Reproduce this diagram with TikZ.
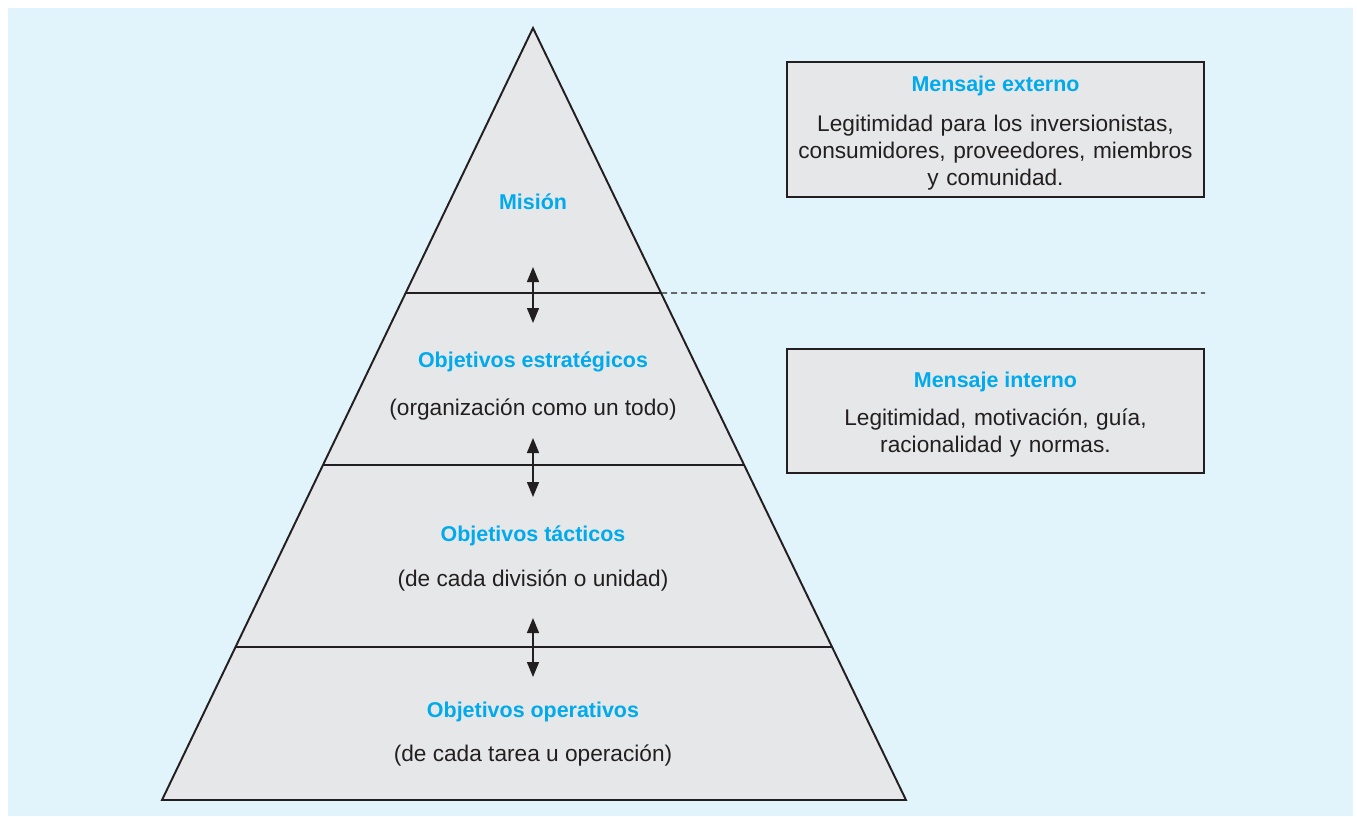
\documentclass[tikz,border=0pt]{standalone}
\usepackage{fontspec}
\setmainfont{Liberation Sans}
\usepackage{xcolor}
\usetikzlibrary{calc,arrows.meta,positioning}
\definecolor{skybg}{RGB}{225,244,251}
\definecolor{pyrgray}{RGB}{230,231,232}
\definecolor{ink}{RGB}{35,31,32}
\definecolor{cyanhead}{RGB}{0,170,236}

\begin{document}
\begin{tikzpicture}[x=0.02cm,y=-0.02cm,
    tier/.style={draw=ink,line width=1.1pt},
    head/.style={font=\fontsize{12.2}{15.4}\selectfont\bfseries,text=cyanhead,anchor=base,inner sep=0pt},
    sub/.style={font=\fontsize{12.9}{15.4}\selectfont,text=ink,anchor=base,inner sep=0pt},
    body/.style={sub,align=center,text width=8.2cm},
    msgbox/.style={draw=ink,fill=pyrgray,line width=1.1pt,minimum width=8.34cm,inner sep=0pt},
    link/.style={{Triangle[length=3mm,width=2.4mm]}-{Triangle[length=3mm,width=2.4mm]},ink,line width=0.8pt}]
    \useasboundingbox (0,0) rectangle (1357,816);
    \fill[skybg] (8,8) rectangle (1353,816);
    % pyramid
    \coordinate (apex) at (533,28); \coordinate (bl) at (162,800); \coordinate (br) at (906,800);
    \filldraw[tier,fill=pyrgray,line join=miter] (apex) -- (bl) -- (br) -- cycle;
    \coordinate (l1) at ($(apex)!0.3433!(bl)$); \coordinate (r1) at ($(apex)!0.3433!(br)$);
    \coordinate (l2) at ($(apex)!0.5661!(bl)$); \coordinate (r2) at ($(apex)!0.5661!(br)$);
    \coordinate (l3) at ($(apex)!0.8018!(bl)$); \coordinate (r3) at ($(apex)!0.8018!(br)$);
    \draw[tier] (l1) -- (r1); \draw[tier] (l2) -- (r2); \draw[tier] (l3) -- (r3);
    \coordinate (dashend) at (1205,293);
    \draw[ink,line width=0.7pt,dash pattern=on 0.12cm off 0.08cm] (r1) -- (dashend);
    % levels
    \node[head] (mision) at (533,209) {Misión};
    \node[head] (estr) at (533,367) {Objetivos estratégicos};
    \node[sub] (estrsub) at (533,415) {(organización como un todo)};
    \node[head] (tact) at (533,541) {Objetivos tácticos};
    \node[sub] (tactsub) at (533,586) {(de cada división o unidad)};
    \node[head] (oper) at (533,717) {Objetivos operativos};
    \node[sub] (opersub) at (533,761) {(de cada tarea u operación)};
    % arrows between levels
    \coordinate (a1t) at (533,267); \coordinate (a1b) at (533,323);
    \coordinate (a2t) at (533,438); \coordinate (a2b) at (533,497);
    \coordinate (a3t) at (533,618); \coordinate (a3b) at (533,677);
    \draw[link] (a1t) -- (a1b);
    \draw[link] (a2t) -- (a2b);
    \draw[link] (a3t) -- (a3b);
    % message boxes
    \node[msgbox,minimum height=2.7cm] (extbox) at (995.5,129.5) {};
    \node[head] (exthead) at (995.5,91) {Mensaje externo};
    \node[body] (exttext) at (995.5,131) {Legitimidad para los inversionistas,\\consumidores, proveedores, miembros\\y comunidad.};
    \node[msgbox,minimum height=2.48cm] (intbox) at (995.5,411) {};
    \node[head] (inthead) at (995.5,387) {Mensaje interno};
    \node[body] (inttext) at (995.5,425) {Legitimidad, motivación, guía,\\racionalidad y normas.};
\end{tikzpicture}
\end{document}
